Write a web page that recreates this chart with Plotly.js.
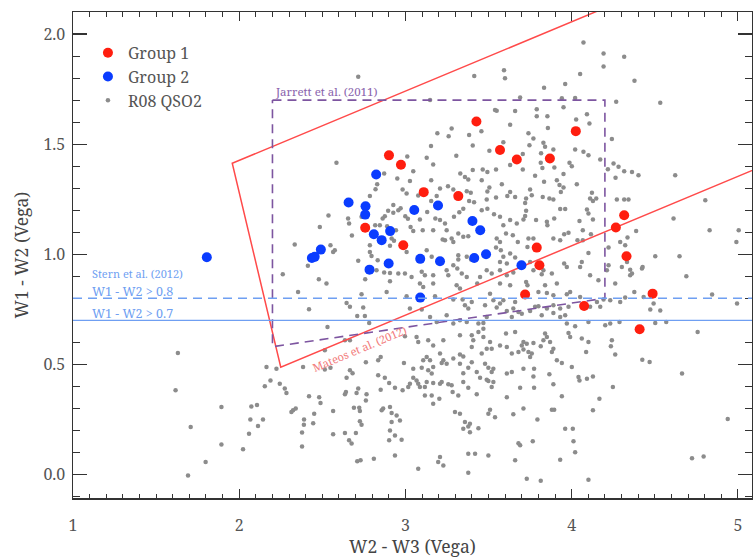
<!DOCTYPE html>
<html>
<head>
<meta charset="utf-8">
<script src="https://cdn.plot.ly/plotly-3.0.1.min.js"></script>
<style>html,body{margin:0;padding:0;background:#fff;}#chart{width:753px;height:558px;}</style>
</head>
<body>
<div id="chart"></div>
<script>
// ---- Data ----
const group1X = [2.901,2.973,3.110,3.318,3.427,3.569,2.758,2.987,4.025,3.670,3.869,4.316,4.266,4.330,3.790,3.806,3.720,4.075,4.487,4.409];
const group1Y = [1.449,1.406,1.282,1.264,1.603,1.473,1.120,1.041,1.559,1.430,1.435,1.177,1.121,0.991,1.030,0.950,0.817,0.765,0.821,0.659];

const group2X = [1.805,2.824,2.658,2.760,2.758,3.053,3.196,2.810,2.857,2.908,3.403,3.450,2.491,2.437,2.454,3.485,3.414,3.089,3.208,2.784,2.899,3.698,3.089];
const group2Y = [0.986,1.362,1.235,1.218,1.180,1.201,1.221,1.091,1.064,1.105,1.151,1.109,1.021,0.983,0.988,1.000,0.983,0.979,0.968,0.930,0.958,0.950,0.803];

const qsoPairs = [
2.585,1.415, 2.872,1.367, 2.830,1.318, 2.820,1.295, 2.786,1.264, 2.951,1.344, 2.927,1.223, 2.896,1.197, 2.876,1.173, 2.863,1.162,
2.957,1.200, 2.927,1.188, 2.537,1.176, 2.655,1.162, 2.661,1.139, 2.736,1.170, 2.485,1.124, 2.818,1.132, 2.846,1.132, 2.890,1.127,
2.678,1.085, 2.917,1.071, 2.943,1.109, 2.334,1.044, 2.549,1.041, 2.565,1.010, 2.575,1.018, 2.786,1.041, 2.786,1.010, 2.796,0.992,
2.833,0.973, 2.716,0.970, 2.907,1.038, 2.931,1.061, 2.413,0.948, 2.262,0.909, 2.479,0.886, 2.525,0.867, 2.758,0.886, 2.826,0.927,
2.872,0.917, 2.907,0.915, 2.907,0.877, 2.957,0.912,
3.549,1.651, 3.278,1.571, 3.457,1.559, 3.192,1.549, 3.260,1.536, 3.383,1.541, 3.630,1.588, 3.154,1.492, 3.011,1.444, 3.128,1.438,
3.306,1.447, 3.405,1.494, 3.505,1.470, 3.589,1.509, 3.167,1.408, 3.047,1.377, 3.330,1.367, 3.358,1.351, 3.378,1.339, 3.405,1.382,
3.465,1.385, 3.493,1.373, 3.545,1.385, 3.630,1.405, 3.155,1.336, 3.027,1.333, 3.459,1.336, 3.256,1.309, 3.288,1.294, 3.208,1.299,
3.369,1.286, 3.393,1.279, 2.983,1.294, 3.007,1.276, 3.505,1.303, 3.493,1.285, 3.580,1.318, 3.630,1.283, 3.077,1.267, 3.188,1.264,
3.155,1.242, 3.383,1.242, 3.413,1.236, 3.489,1.249, 3.545,1.258, 3.613,1.264, 3.660,1.260, 2.971,1.209, 2.999,1.173, 3.015,1.161,
3.087,1.158, 3.131,1.192, 3.180,1.162, 3.208,1.155, 3.238,1.140, 3.324,1.191, 3.348,1.206, 3.292,1.170, 3.459,1.200, 3.493,1.206,
3.533,1.182, 3.569,1.170, 3.589,1.132, 3.630,1.155, 3.670,1.140, 3.031,1.124, 3.047,1.106, 3.104,1.109, 3.167,1.109, 3.248,1.109,
3.318,1.094, 3.348,1.079, 3.378,1.082, 3.224,1.067, 3.238,1.064, 3.278,1.071, 3.288,1.056, 3.549,1.071, 3.569,1.056, 3.605,1.094,
3.646,1.086, 3.676,1.056, 3.007,1.010, 3.128,1.018, 3.158,0.988, 3.318,0.995, 3.318,0.976, 3.288,0.950, 3.312,0.935, 3.369,0.988,
3.395,0.976, 3.545,1.030, 3.574,1.018, 3.589,0.988, 3.630,1.003, 3.660,0.985, 3.569,0.965, 3.610,0.958, 2.997,0.912, 3.037,0.897,
3.098,0.920, 3.117,0.905, 3.167,0.905, 3.248,0.927, 3.258,0.905, 3.339,0.912, 3.369,0.897, 3.449,0.897, 3.489,0.927, 3.519,0.912,
3.569,0.927, 3.610,0.905, 3.649,0.917, 3.087,0.867, 3.107,0.851, 3.167,0.867, 3.308,0.859, 3.328,0.844, 3.432,0.867, 3.569,0.867,
3.630,0.859,
3.790,1.627, 3.854,1.627, 4.027,1.612, 4.092,1.636, 4.107,1.594, 4.242,1.523, 3.740,1.549, 3.770,1.526, 3.830,1.506, 3.840,1.488,
3.746,1.495, 4.021,1.476, 4.071,1.465, 4.101,1.450, 3.816,1.458, 3.890,1.476, 3.706,1.455, 4.172,1.430, 3.987,1.415, 4.001,1.400,
3.814,1.415, 3.824,1.392, 3.896,1.394, 3.706,1.385, 3.951,1.364, 3.780,1.356, 4.252,1.412, 4.282,1.397, 4.316,1.377, 4.363,1.373,
4.218,1.386, 4.264,1.347, 3.834,1.329, 3.911,1.336, 3.927,1.314, 3.951,1.303, 3.935,1.283, 4.031,1.318, 3.750,1.294, 3.760,1.268,
3.866,1.253, 3.890,1.249, 3.826,1.260, 3.726,1.253, 3.720,1.233, 4.122,1.279, 4.111,1.253, 4.128,1.242, 4.148,1.253, 4.272,1.249,
4.342,1.249, 3.931,1.205, 3.961,1.205, 4.092,1.203, 4.101,1.185, 3.726,1.197, 3.720,1.174, 3.710,1.158, 3.786,1.155, 3.851,1.147,
3.854,1.132, 3.895,1.162, 4.047,1.151, 4.128,1.158, 3.740,1.071, 3.770,1.071, 3.955,1.091, 3.981,1.097, 3.931,1.064, 4.067,1.109,
4.035,1.064, 4.067,1.064, 4.116,1.091, 3.890,1.071, 3.734,1.033, 4.101,1.006, 4.222,1.030, 4.292,1.056, 4.336,1.076, 4.322,1.041,
3.750,0.965, 3.770,0.927, 3.830,0.927, 3.820,0.909, 3.881,0.912, 3.955,0.958, 3.971,0.942, 4.061,0.965, 4.051,0.942, 4.111,0.905,
4.161,0.882, 4.222,0.950, 4.212,0.927, 4.302,0.942, 4.352,0.930, 4.352,0.905, 3.726,0.874, 3.734,0.859, 3.840,0.859, 3.911,0.867,
4.262,0.867,
2.354,0.829, 2.887,0.829, 2.736,0.818, 2.420,0.750, 2.646,0.779, 2.666,0.761, 2.746,0.758, 2.710,0.720, 2.756,0.720, 2.782,0.688,
2.531,0.670, 2.636,0.609, 2.666,0.609, 2.515,0.564, 2.515,0.476, 2.549,0.485, 2.384,0.488, 2.762,0.510, 2.836,0.518, 2.851,0.533,
2.666,0.473, 2.682,0.460, 2.646,0.439, 2.836,0.450, 2.876,0.439, 2.902,0.415, 2.937,0.394, 2.851,0.385, 2.244,0.412, 2.274,0.390,
2.284,0.370, 2.716,0.390, 2.706,0.370, 2.642,0.374, 2.636,0.364, 2.420,0.355, 2.481,0.351, 2.489,0.324, 2.766,0.364, 2.762,0.336,
2.690,0.303, 2.722,0.303, 2.726,0.288, 2.565,0.288, 2.324,0.291, 2.340,0.299, 2.866,0.299, 2.857,0.291, 2.907,0.306, 2.917,0.279,
2.947,0.268, 2.451,0.276, 2.445,0.233, 2.389,0.226, 2.726,0.241, 2.736,0.226, 2.917,0.238, 2.378,0.190, 2.565,0.182, 2.636,0.188,
2.702,0.188, 2.661,0.155, 2.676,0.140, 2.907,0.200, 2.937,0.177, 2.902,0.155, 2.378,0.127, 2.710,0.060, 2.730,0.064, 2.810,0.071,
2.937,0.086,
3.007,0.809, 3.178,0.809, 3.288,0.794, 3.344,0.794, 3.358,0.768, 3.399,0.783, 3.378,0.753, 3.509,0.821, 3.529,0.791, 3.569,0.776,
3.589,0.791, 3.549,0.758, 3.479,0.768, 3.660,0.783, 3.649,0.753, 3.027,0.753, 3.098,0.749, 3.148,0.715, 3.188,0.692, 3.248,0.723,
3.288,0.685, 3.328,0.700, 3.369,0.692, 3.439,0.685, 3.469,0.688, 3.489,0.715, 3.610,0.742, 3.640,0.715, 3.680,0.738, 2.997,0.627,
3.077,0.601, 3.067,0.624, 3.137,0.609, 3.167,0.586, 3.228,0.609, 3.328,0.632, 3.399,0.632, 3.439,0.647, 3.469,0.662, 3.408,0.609,
3.469,0.624, 3.509,0.601, 3.489,0.571, 3.519,0.571, 3.569,0.586, 3.605,0.640, 3.660,0.647, 3.610,0.579, 3.640,0.549, 3.680,0.556,
3.399,0.579, 3.459,0.549, 3.328,0.545, 3.348,0.536, 2.991,0.506, 3.128,0.533, 3.107,0.518, 3.148,0.518, 3.208,0.549, 3.228,0.518,
3.248,0.503, 3.218,0.506, 3.288,0.526, 3.047,0.480, 3.098,0.485, 3.137,0.473, 3.167,0.488, 3.158,0.458, 3.328,0.503, 3.348,0.460,
3.399,0.510, 3.378,0.485, 3.429,0.465, 3.479,0.503, 3.499,0.485, 3.529,0.480, 3.519,0.465, 3.610,0.458, 3.640,0.465, 3.047,0.439,
3.067,0.427, 3.027,0.412, 3.017,0.397, 3.077,0.412, 3.087,0.397, 3.128,0.420, 3.117,0.397, 3.167,0.415, 3.208,0.412, 3.218,0.420,
3.258,0.409, 3.278,0.405, 3.348,0.420, 3.378,0.394, 3.449,0.439, 3.489,0.430, 3.499,0.424, 3.519,0.397, 3.529,0.420, 2.983,0.382,
3.117,0.359, 3.158,0.359, 3.284,0.374, 3.318,0.359, 3.429,0.364, 3.610,0.351, 3.167,0.321, 3.204,0.344, 3.298,0.283, 3.328,0.276,
3.509,0.294, 3.499,0.276, 3.539,0.260, 3.649,0.273, 3.358,0.238, 3.378,0.218, 3.388,0.230, 3.348,0.208, 3.388,0.192, 3.439,0.210,
2.967,0.245, 2.977,0.158, 3.378,0.094, 3.419,0.094, 3.499,0.086, 3.208,0.079, 3.197,0.056, 3.228,0.041, 3.077,0.026, 3.660,0.064,
3.800,0.829, 3.851,0.824, 3.890,0.814, 3.971,0.818, 3.991,0.829, 4.051,0.806, 3.780,0.761, 3.800,0.764, 3.851,0.753, 3.890,0.768,
3.931,0.753, 3.981,0.761, 4.111,0.761, 4.172,0.761, 3.700,0.730, 3.750,0.742, 3.820,0.723, 3.890,0.733, 3.931,0.715, 3.961,0.723,
4.152,0.783, 4.192,0.794, 4.232,0.791, 4.292,0.783, 4.322,0.803, 3.971,0.685, 4.021,0.673, 4.101,0.692, 4.202,0.677, 4.232,0.685,
4.288,0.692, 3.840,0.640, 3.851,0.624, 3.981,0.642, 3.991,0.624, 3.710,0.601, 3.730,0.594, 3.700,0.586, 3.770,0.597, 3.814,0.582,
3.830,0.609, 3.870,0.601, 3.890,0.571, 3.881,0.556, 4.061,0.617, 4.101,0.601, 4.242,0.609, 4.236,0.582, 4.087,0.556, 4.262,0.545,
3.710,0.567, 3.740,0.556, 3.750,0.533, 3.760,0.549, 3.911,0.518, 3.941,0.506, 4.001,0.488, 3.710,0.480, 3.774,0.480, 3.770,0.445,
3.866,0.455, 3.890,0.409, 4.041,0.442, 4.047,0.427, 4.092,0.435, 4.128,0.445, 3.690,0.394, 3.774,0.394, 4.248,0.397, 3.941,0.355,
4.167,0.344, 3.710,0.299, 3.881,0.294, 3.895,0.294, 4.128,0.291, 3.794,0.250, 3.961,0.208, 4.007,0.208, 3.766,0.151, 3.690,0.132,
4.011,0.151, 4.021,0.101, 3.931,0.067,
1.631,0.552, 1.617,0.382, 1.708,0.215, 1.692,-0.005, 1.798,0.056, 1.893,0.306, 1.893,0.136, 2.023,0.114, 2.059,0.185, 2.067,0.249,
2.073,0.309, 2.107,0.315, 2.113,0.220, 2.143,0.249, 2.154,0.400, 2.164,0.488, 2.188,0.427, 2.224,0.480, 2.314,0.283, 2.390,0.249,
3.378,0.008, 3.730,-0.020, 3.814,-0.029, 4.101,-0.024, 3.680,0.142, 4.664,0.458, 4.939,0.252, 4.724,0.074, 4.794,0.082, 4.425,0.521,
4.469,0.511, 4.758,0.647, 4.995,0.776, 4.845,0.817, 4.690,0.900, 4.569,0.692, 4.473,0.749, 4.533,0.745, 4.433,0.806, 4.377,0.829,
4.493,0.776, 4.503,0.688, 4.423,0.935, 4.333,0.965,
4.071,1.961, 4.192,1.912, 4.192,1.852, 4.316,1.897, 3.593,1.836, 3.599,1.799, 4.051,1.818, 4.378,1.788, 3.961,1.773, 3.834,1.756,
3.690,1.712, 3.941,1.708, 4.021,1.710, 4.268,1.692, 4.533,1.688, 3.539,1.655, 3.660,1.650, 3.790,1.658, 3.951,1.667, 3.857,1.573,
4.402,1.359, 4.623,1.359, 4.316,1.249, 4.804,1.245, 4.388,1.106, 4.613,1.162, 4.830,1.109, 5.005,1.109, 4.503,0.991, 4.649,0.991,
4.991,1.056, 4.427,0.942, 4.363,0.912, 2.716,1.806, 3.414,1.809, 3.148,1.700
];
const qsoX = qsoPairs.filter((v, i) => i % 2 === 0);
const qsoY = qsoPairs.filter((v, i) => i % 2 === 1);

// Selection criteria (wedge / box / cut vertices)
const mateosX = [4.30, 1.958, 2.250, 5.30];
const mateosY = [2.150, 1.413, 0.487, 1.448];
const jarrettX = [2.2, 4.2, 4.2, 2.2, 2.2];
const jarrettY = [1.7, 1.7, 0.8, 0.58, 1.7];
const sternCuts = [0.8, 0.7];

const xTicks = [1, 2, 3, 4, 5];
const yTicks = [0.0, 0.5, 1.0, 1.5, 2.0];

const serif = 'Noto Serif';

const traces = [
  {x: qsoX, y: qsoY, type: 'scatter', mode: 'markers', name: 'R08 QSO2', legendrank: 3,
   marker: {color: '#8c8c8c', size: 4.5}},
  {x: mateosX, y: mateosY, type: 'scatter', mode: 'lines', showlegend: false, hoverinfo: 'skip',
   line: {color: '#ff4a4a', width: 1.5}},
  {x: jarrettX, y: jarrettY, type: 'scatter', mode: 'lines', showlegend: false, hoverinfo: 'skip',
   line: {color: '#7d55a0', width: 1.6, dash: '9px,6px'}},
  {x: group2X, y: group2Y, type: 'scatter', mode: 'markers', name: 'Group 2', legendrank: 2,
   marker: {color: '#0a3cff', size: 10}},
  {x: group1X, y: group1Y, type: 'scatter', mode: 'markers', name: 'Group 1', legendrank: 1,
   marker: {color: '#ff1e0f', size: 10}}
];

const sternColor = '#6f9ff2';
const shapes = [
  {type: 'line', xref: 'paper', yref: 'y', x0: 0, x1: 1, y0: sternCuts[0], y1: sternCuts[0],
   line: {color: sternColor, width: 1.3, dash: '9px,6px'}},
  {type: 'line', xref: 'paper', yref: 'y', x0: 0, x1: 1, y0: sternCuts[1], y1: sternCuts[1],
   line: {color: sternColor, width: 1.3}}
];

const annotations = [
  {text: 'Stern et al. (2012)', x: 1.104, y: 0.914, xref: 'x', yref: 'y', xanchor: 'left', yanchor: 'middle', showarrow: false,
   font: {family: serif, size: 11, color: sternColor}},
  {text: 'W1 - W2 &gt; 0.8', x: 1.104, y: 0.833, xref: 'x', yref: 'y', xanchor: 'left', yanchor: 'middle', showarrow: false,
   font: {family: serif, size: 12.5, color: sternColor}},
  {text: 'W1 - W2 &gt; 0.7', x: 1.104, y: 0.733, xref: 'x', yref: 'y', xanchor: 'left', yanchor: 'middle', showarrow: false,
   font: {family: serif, size: 12.5, color: sternColor}},
  {text: 'Jarrett et al. (2011)', x: 2.204, y: 1.738, xref: 'x', yref: 'y', xanchor: 'left', yanchor: 'middle', showarrow: false,
   font: {family: serif, size: 11.5, color: '#8a64ad'}},
  {text: 'Mateos et al. (2012)', x: 2.724, y: 0.574, xref: 'x', yref: 'y', xanchor: 'center', yanchor: 'middle', showarrow: false,
   textangle: -22.7, font: {family: serif, size: 11, color: '#f27a7a'}}
];

const axisCommon = {
  showgrid: false, zeroline: false, showline: true, linecolor: '#333', linewidth: 1.5,
  mirror: 'allticks', ticks: 'inside', tickcolor: '#333', tickwidth: 1.2,
  tickfont: {family: serif, size: 16, color: '#555'}
};

const layout = {
  width: 753, height: 558,
  margin: {l: 73, r: 1, t: 12, b: 60},
  paper_bgcolor: '#fff', plot_bgcolor: '#fff',
  font: {family: serif, color: '#555'},
  showlegend: true,
  legend: {x: 0.022, y: 0.951, xanchor: 'left', yanchor: 'top', bgcolor: 'rgba(0,0,0,0)',
           font: {family: serif, size: 16, color: '#555'}, tracegroupgap: 0},
  xaxis: Object.assign({}, axisCommon, {
    range: [1, 5.085], tickmode: 'array', tickvals: xTicks, ticktext: xTicks.map(String), ticklen: 9,
    ticklabelstandoff: 12,
    minor: {ticks: 'inside', dtick: 0.1, tick0: 1, ticklen: 4.5, tickcolor: '#333', tickwidth: 1, showgrid: false},
    title: {text: 'W2 - W3 (Vega)', font: {family: serif, size: 17.5, color: '#444'}, standoff: 6}
  }),
  yaxis: Object.assign({}, axisCommon, {
    range: [-0.107, 2.1], tickmode: 'array', tickvals: yTicks, ticktext: yTicks.map(v => v.toFixed(1)), ticklen: 14,
    ticklabelstandoff: 3,
    minor: {ticks: 'inside', dtick: 0.1, tick0: 0, ticklen: 7, tickcolor: '#333', tickwidth: 1, showgrid: false},
    title: {text: 'W1 - W2 (Vega)', font: {family: serif, size: 17.5, color: '#444'}, standoff: 10}
  }),
  shapes: shapes,
  annotations: annotations
};

Plotly.newPlot('chart', traces, layout, {displayModeBar: false, staticPlot: true});
</script>
</body>
</html>
